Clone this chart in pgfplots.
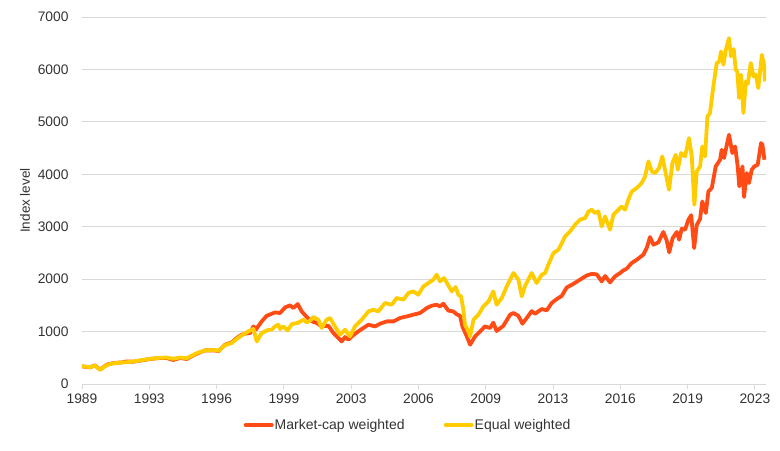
\documentclass[border=0pt]{standalone}
\usepackage{pgfplots}
\pgfplotsset{compat=1.18}
\usepackage{fontspec}
\setmainfont{Liberation Sans}
\definecolor{mcap}{RGB}{255,76,22}
\definecolor{eqw}{RGB}{255,204,0}
\definecolor{txt}{RGB}{51,51,51}
\definecolor{gridc}{RGB}{217,217,217}
\begin{document}
\begin{tikzpicture}
\begin{axis}[
  scale only axis, width=684pt, height=367pt,
  xmin=1989, xmax=2023.56, ymin=0, ymax=7000,
  axis line style={draw=none},
  ymajorgrids, grid style={gridc, line width=0.9pt},
  ytick={0,1000,...,7000}, ytick style={draw=none},
  xtick={1989,1992.4,1995.8,1999.2,2002.6,2006.0,2009.4,2012.8,2016.2,2019.6,2023.0},
  xticklabels={1989,1993,1996,1999,2003,2006,2009,2013,2016,2019,2023},
  xtick pos=bottom, tick align=outside, major tick length=5pt,
  xtick style={gridc, line width=0.9pt},
  /pgf/number format/assume math mode=true,
  /pgf/number format/set thousands separator={},
  tick label style={font=\fontsize{13.8}{15}\selectfont, text=txt},
  yticklabel style={xshift=-5pt},
  xticklabel style={yshift=-1pt},
  ylabel={Index level},
  every axis y label/.style={at={(rel axis cs:0,0.5)}, rotate=90, anchor=center, yshift=57pt,
    font=\fontsize{13.5}{15}\selectfont, text=txt},
  legend style={at={(rel axis cs:0.476,-0.112)}, anchor=center, draw=none, fill=none,
    font=\fontsize{14}{15}\selectfont, text=txt, legend columns=2,
    /tikz/every even column/.append style={column sep=38pt},
    nodes={inner sep=1pt}},
  legend image code/.code={\draw[#1, line width=4pt, line cap=round] (0pt,0pt) -- (26pt,0pt);},
  every axis plot/.append style={line width=3.8pt, line join=round, no markers},
]
\addplot[mcap] coordinates {
(1989.00,336)(1989.40,317)(1989.66,355)(1989.91,273)(1990.25,368)(1990.58,400)(1991.01,412)(1991.26,431)(1991.59,425)(1992.02,450)(1992.44,477)(1992.94,496)(1993.28,496)(1993.61,458)(1993.95,496)(1994.29,477)(1994.62,545)(1994.88,591)(1995.22,641)(1995.72,641)(1995.89,622)(1996.23,750)(1996.56,793)(1996.82,877)(1997.07,940)(1997.24,959)(1997.49,973)(1997.66,1098)(1997.78,1036)(1998.08,1194)(1998.33,1300)(1998.75,1365)(1999.01,1354)(1999.26,1460)(1999.51,1500)(1999.68,1449)(1999.90,1525)(2000.10,1384)(2000.35,1280)(2000.61,1194)(2000.86,1163)(2001.11,1098)(2001.45,1112)(2001.70,973)(2002.04,845)(2002.12,812)(2002.29,896)(2002.46,845)(2002.63,908)(2002.96,1003)(2003.47,1131)(2003.81,1098)(2004.06,1150)(2004.40,1194)(2004.73,1194)(2005.07,1259)(2005.41,1289)(2005.74,1322)(2006.08,1354)(2006.42,1449)(2006.67,1493)(2006.92,1512)(2007.09,1480)(2007.26,1531)(2007.51,1400)(2007.76,1384)(2007.93,1330)(2008.10,1300)(2008.22,1098)(2008.44,908)(2008.61,750)(2008.86,908)(2009.11,1000)(2009.36,1098)(2009.62,1068)(2009.78,1170)(2009.95,1010)(2010.29,1110)(2010.63,1322)(2010.80,1354)(2011.05,1300)(2011.25,1150)(2011.47,1259)(2011.72,1390)(2011.89,1340)(2012.23,1430)(2012.48,1404)(2012.73,1545)(2012.99,1621)(2013.24,1680)(2013.49,1840)(2013.83,1910)(2014.16,1989)(2014.50,2070)(2014.76,2100)(2015.01,2090)(2015.26,1957)(2015.43,2060)(2015.68,1938)(2015.93,2052)(2016.19,2117)(2016.35,2166)(2016.52,2200)(2016.77,2307)(2017.03,2370)(2017.36,2466)(2017.54,2600)(2017.70,2803)(2017.87,2656)(2018.12,2700)(2018.37,2900)(2018.54,2740)(2018.67,2510)(2018.84,2780)(2019.05,2900)(2019.17,2752)(2019.30,2960)(2019.47,2943)(2019.64,3133)(2019.78,3220)(2019.93,2593)(2020.06,3030)(2020.23,3150)(2020.34,3482)(2020.52,3261)(2020.65,3673)(2020.82,3738)(2021.02,4150)(2021.24,4277)(2021.32,4468)(2021.44,4310)(2021.58,4563)(2021.69,4754)(2021.86,4405)(2022.00,4531)(2022.13,4150)(2022.21,3768)(2022.37,4150)(2022.45,3566)(2022.59,4024)(2022.70,3833)(2022.84,4087)(2022.97,4150)(2023.14,4182)(2023.31,4596)(2023.38,4563)(2023.48,4277)
};
\addlegendentry{Market-cap weighted}
\addplot[eqw] coordinates {
(1989.00,340)(1989.40,320)(1989.66,350)(1989.91,270)(1990.25,360)(1990.58,395)(1991.01,410)(1991.26,415)(1991.59,430)(1992.02,455)(1992.44,480)(1992.94,500)(1993.28,505)(1993.61,480)(1993.95,505)(1994.29,490)(1994.62,555)(1994.88,600)(1995.22,641)(1995.72,650)(1995.89,630)(1996.23,740)(1996.56,782)(1996.82,860)(1997.07,927)(1997.40,1003)(1997.66,1050)(1997.83,812)(1998.08,973)(1998.25,1003)(1998.42,1036)(1998.59,1036)(1998.75,1098)(1998.92,1131)(1999.01,1049)(1999.17,1100)(1999.39,1022)(1999.60,1140)(1999.93,1170)(2000.18,1226)(2000.35,1175)(2000.51,1200)(2000.69,1278)(2000.94,1226)(2001.11,1068)(2001.36,1226)(2001.53,1259)(2001.78,1098)(2002.04,940)(2002.29,1036)(2002.54,908)(2002.79,1098)(2003.13,1226)(2003.47,1384)(2003.72,1417)(2003.97,1384)(2004.31,1545)(2004.65,1512)(2004.90,1640)(2005.24,1608)(2005.49,1735)(2005.74,1766)(2005.99,1703)(2006.25,1861)(2006.50,1926)(2006.75,1989)(2006.92,2084)(2007.09,1957)(2007.29,2021)(2007.51,1880)(2007.68,1766)(2007.88,1850)(2008.01,1703)(2008.15,1671)(2008.27,1417)(2008.35,1131)(2008.52,1003)(2008.61,908)(2008.78,1226)(2009.03,1322)(2009.28,1480)(2009.54,1576)(2009.78,1766)(2009.95,1512)(2010.21,1640)(2010.46,1861)(2010.80,2117)(2011.05,1989)(2011.22,1671)(2011.39,1875)(2011.72,2117)(2011.97,1926)(2012.23,2084)(2012.40,2117)(2012.56,2275)(2012.82,2498)(2013.07,2561)(2013.24,2689)(2013.41,2815)(2013.66,2910)(2013.91,3038)(2014.16,3133)(2014.42,3166)(2014.59,3291)(2014.76,3324)(2014.92,3261)(2015.09,3291)(2015.26,3005)(2015.43,3196)(2015.68,2943)(2015.85,3229)(2016.10,3324)(2016.27,3387)(2016.44,3324)(2016.60,3514)(2016.78,3673)(2017.03,3738)(2017.28,3833)(2017.45,3959)(2017.62,4245)(2017.79,4055)(2017.95,4024)(2018.16,4119)(2018.32,4340)(2018.49,4024)(2018.66,3705)(2018.83,4214)(2019.00,4373)(2019.10,4087)(2019.27,4405)(2019.47,4340)(2019.67,4691)(2019.81,4340)(2019.94,3419)(2020.06,4055)(2020.23,4150)(2020.34,4531)(2020.48,4340)(2020.60,5103)(2020.73,5168)(2020.90,5676)(2021.07,6122)(2021.20,6152)(2021.29,6343)(2021.41,6089)(2021.53,6375)(2021.69,6598)(2021.79,6247)(2021.93,6388)(2022.03,5994)(2022.11,5962)(2022.20,5454)(2022.30,5899)(2022.42,5168)(2022.54,5771)(2022.64,5727)(2022.79,6122)(2022.93,5866)(2023.04,5899)(2023.17,5645)(2023.35,6280)(2023.46,6089)(2023.51,5771)
};
\addlegendentry{Equal weighted}
\end{axis}
\pgfresetboundingbox
\path ([shift={(-82pt,-67pt)}]current axis.south west) rectangle ([shift={(14pt,17pt)}]current axis.north east);
\end{tikzpicture}
\end{document}
